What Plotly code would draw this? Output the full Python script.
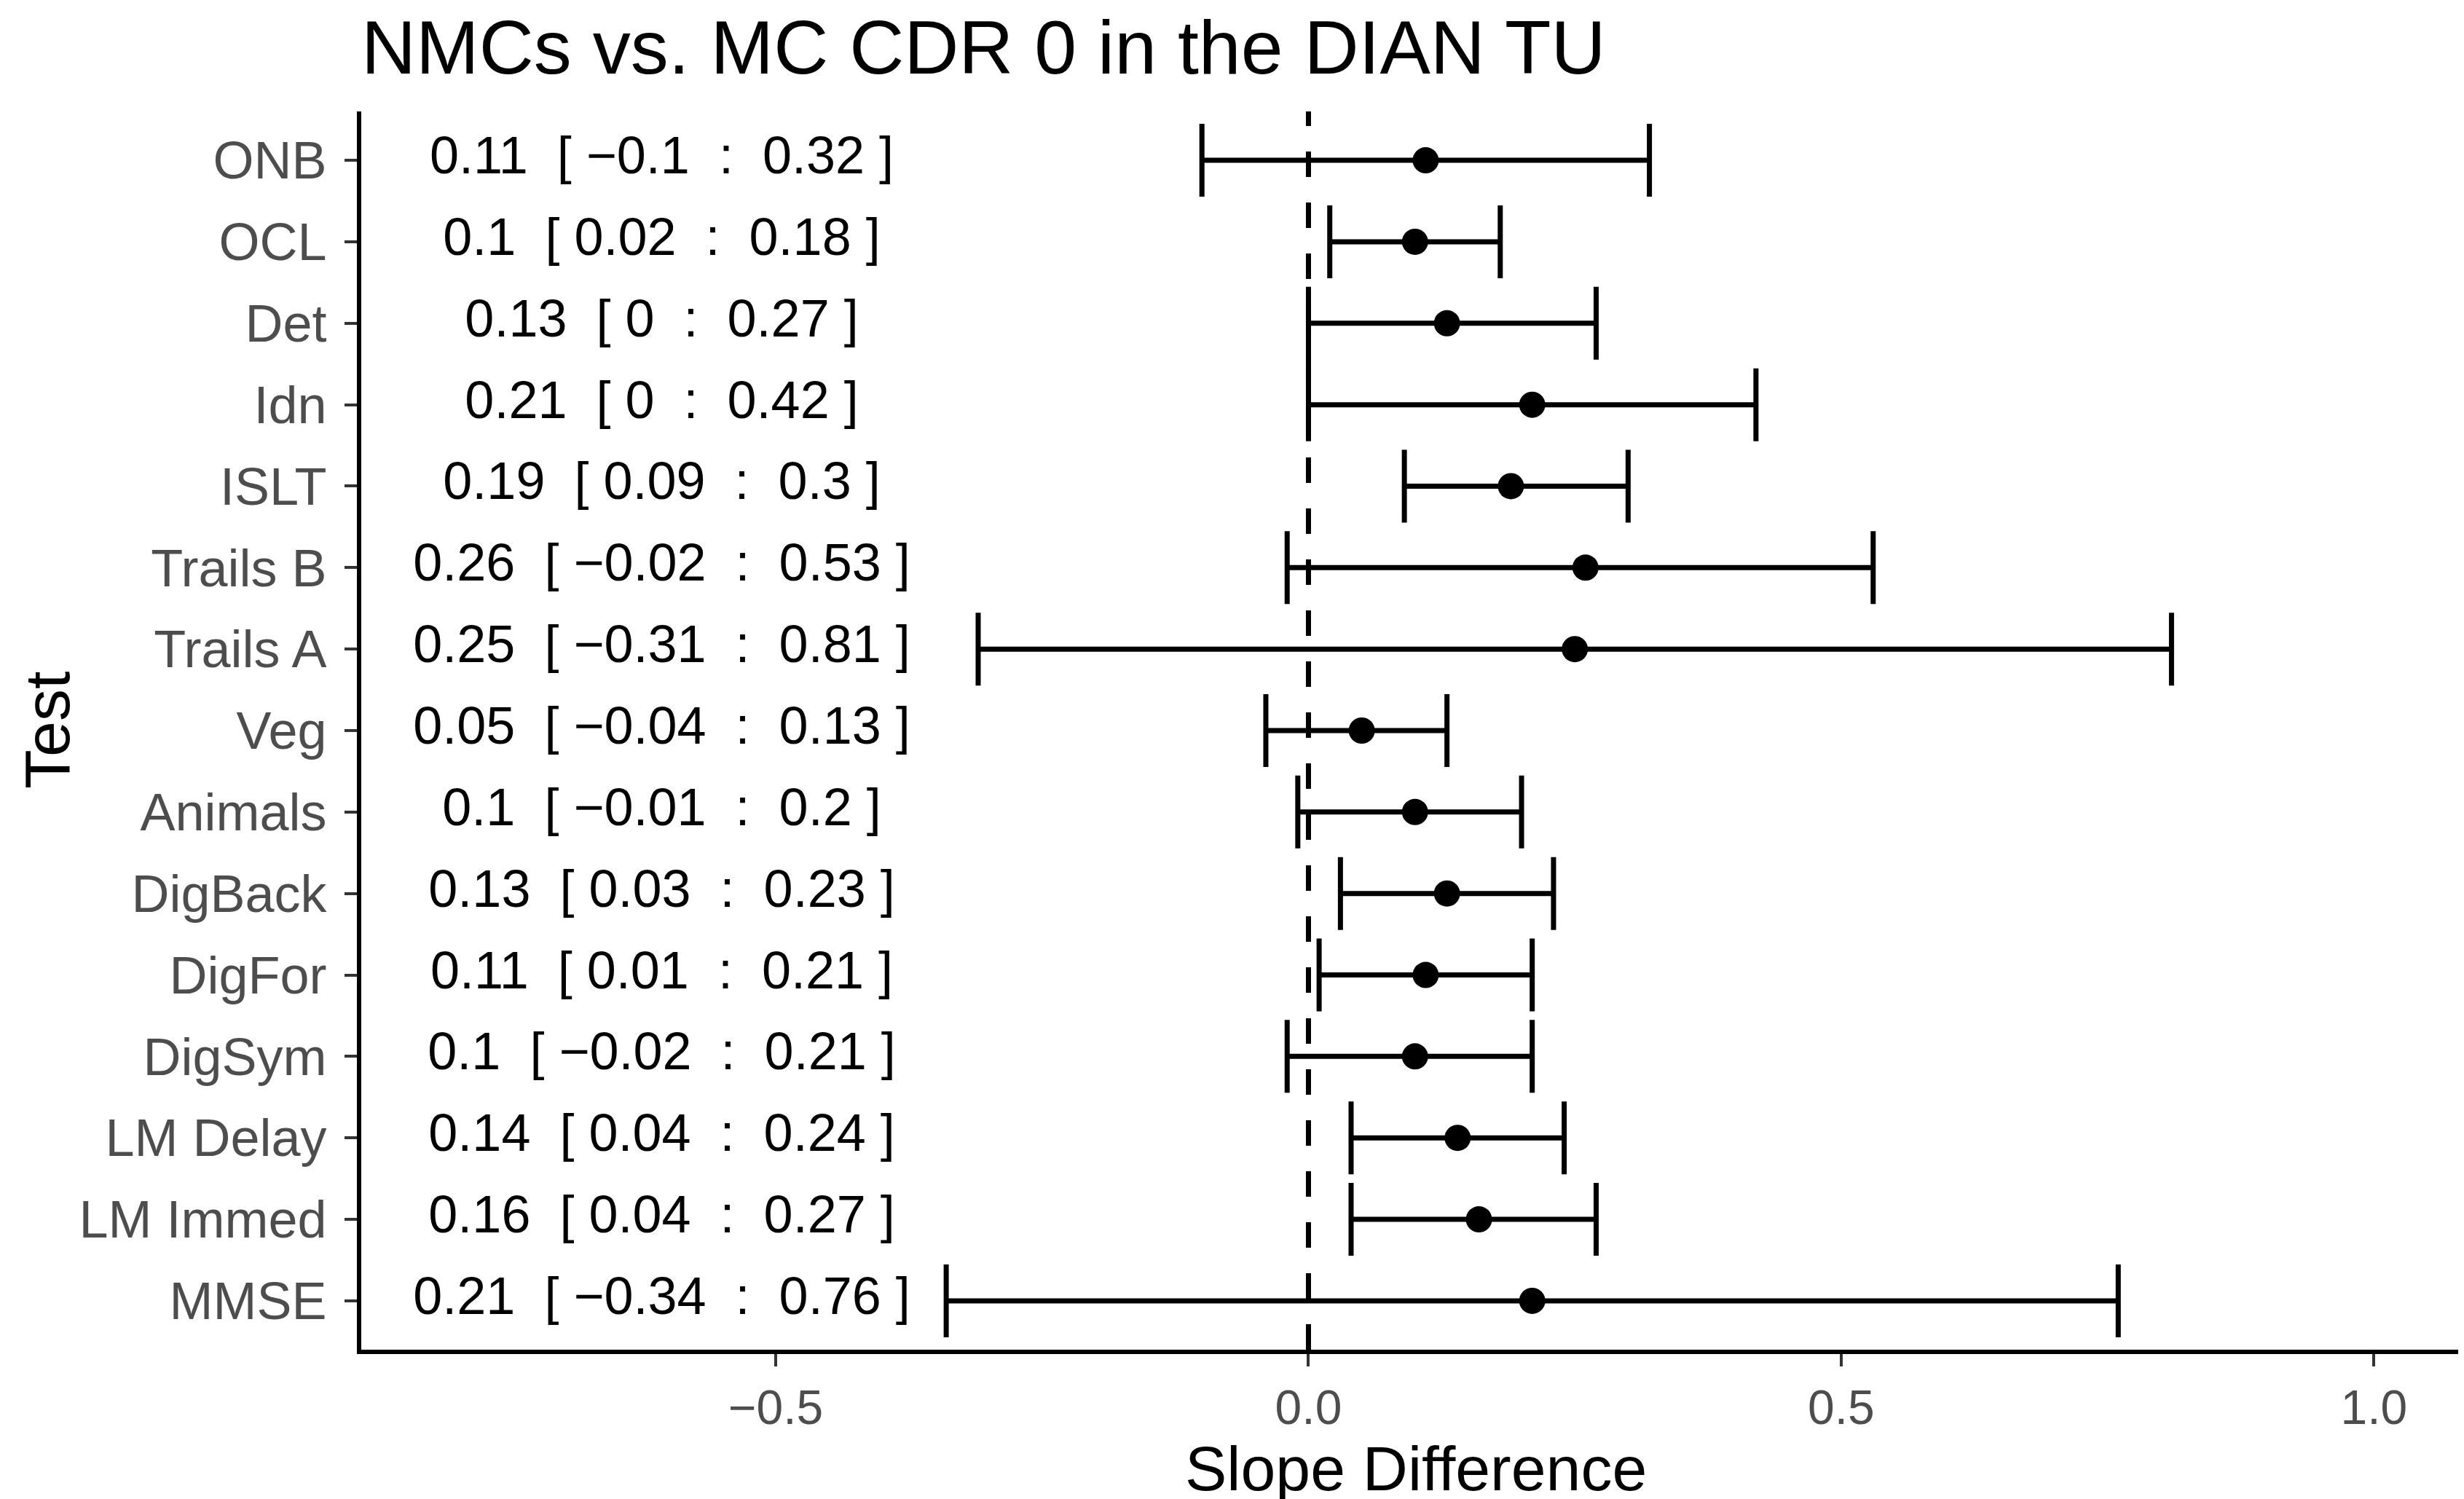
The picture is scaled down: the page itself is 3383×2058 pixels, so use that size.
import plotly.graph_objects as go

# Data (top to bottom)
tests = ['ONB', 'OCL', 'Det', 'Idn', 'ISLT', 'Trails B', 'Trails A', 'Veg',
         'Animals', 'DigBack', 'DigFor', 'DigSym', 'LM Delay', 'LM Immed', 'MMSE']
estimate = [0.11, 0.1, 0.13, 0.21, 0.19, 0.26, 0.25, 0.05,
            0.1, 0.13, 0.11, 0.1, 0.14, 0.16, 0.21]
lower = [-0.1, 0.02, 0, 0, 0.09, -0.02, -0.31, -0.04,
         -0.01, 0.03, 0.01, -0.02, 0.04, 0.04, -0.34]
upper = [0.32, 0.18, 0.27, 0.42, 0.3, 0.53, 0.81, 0.13,
         0.2, 0.23, 0.21, 0.21, 0.24, 0.27, 0.76]
x_ticks = [-0.5, 0.0, 0.5, 1.0]

W, H = 3383, 2058
ML, MR, MT, MB = 488, 0, 145, 213
FONT = 'Liberation Sans, Arial, sans-serif'
LABEL_X = -0.607


def fmt(v):
    s = ('%g' % v)
    return s.replace('-', '\u2212')


labels = ['%s  [ %s  :  %s ]' % (fmt(e), fmt(lo), fmt(hi))
          for e, lo, hi in zip(estimate, lower, upper)]

fig = go.Figure()

# zero reference line
fig.add_shape(type='line', x0=0, x1=0, y0=0, y1=1, xref='x', yref='paper',
              line=dict(color='black', width=7, dash='35px,35px'), layer='below')

# estimates with CI whiskers
fig.add_trace(go.Scatter(
    x=estimate, y=tests, mode='markers',
    marker=dict(size=36, color='black'),
    error_x=dict(type='data', symmetric=False,
                 array=[h - e for e, h in zip(estimate, upper)],
                 arrayminus=[e - l for e, l in zip(estimate, lower)],
                 color='black', thickness=7, width=50),
    showlegend=False, hoverinfo='skip'
))

# text column with estimate and interval
fig.add_trace(go.Scatter(
    x=[LABEL_X] * len(tests), y=tests, mode='text', text=labels,
    textposition='middle center',
    textfont=dict(size=72, color='black', family=FONT),
    showlegend=False, hoverinfo='skip'
))

plot_w = W - ML - MR
plot_h = H - MT - MB

# axis titles as annotations so they can sit right at the page edges
fig.add_annotation(text='Slope Difference', xref='paper', yref='paper',
                   x=0.5, y=-(2008 - (H - MB)) / plot_h,
                   xanchor='center', yanchor='middle', showarrow=False,
                   font=dict(size=86, color='black', family=FONT))
fig.add_annotation(text='Test', xref='paper', yref='paper',
                   x=(56 - ML) / plot_w, y=0.5, textangle=-90,
                   xanchor='center', yanchor='middle', showarrow=False,
                   font=dict(size=88, color='black', family=FONT))

fig.update_layout(
    width=W, height=H,
    margin=dict(l=ML, r=MR, t=MT, b=MB),
    plot_bgcolor='white', paper_bgcolor='white',
    font=dict(family=FONT),
    title=dict(text='NMCs vs. MC CDR 0 in the DIAN TU',
               x=0, xref='paper', xanchor='left',
               y=1 - 20 / H, yref='container', yanchor='top',
               font=dict(size=104, color='black', family=FONT)),
    xaxis=dict(range=[-0.889, 1.09], tickvals=x_ticks,
               ticktext=[fmt(v) if v < 0 else '%.1f' % v for v in x_ticks],
               showgrid=False, zeroline=False,
               showline=True, linecolor='black', linewidth=6,
               ticks='outside', ticklen=17, tickwidth=4, tickcolor='#333333',
               tickfont=dict(size=66, color='#4d4d4d', family=FONT)),
    yaxis=dict(type='category', categoryorder='array', categoryarray=tests,
               range=[14.6, -0.6],
               showgrid=False, zeroline=False,
               showline=True, linecolor='black', linewidth=6,
               ticks='outside', ticklen=17, tickwidth=4, tickcolor='#333333',
               ticklabelstandoff=10,
               tickfont=dict(size=72, color='#4d4d4d', family=FONT)),
)

fig.write_html('out.html')
